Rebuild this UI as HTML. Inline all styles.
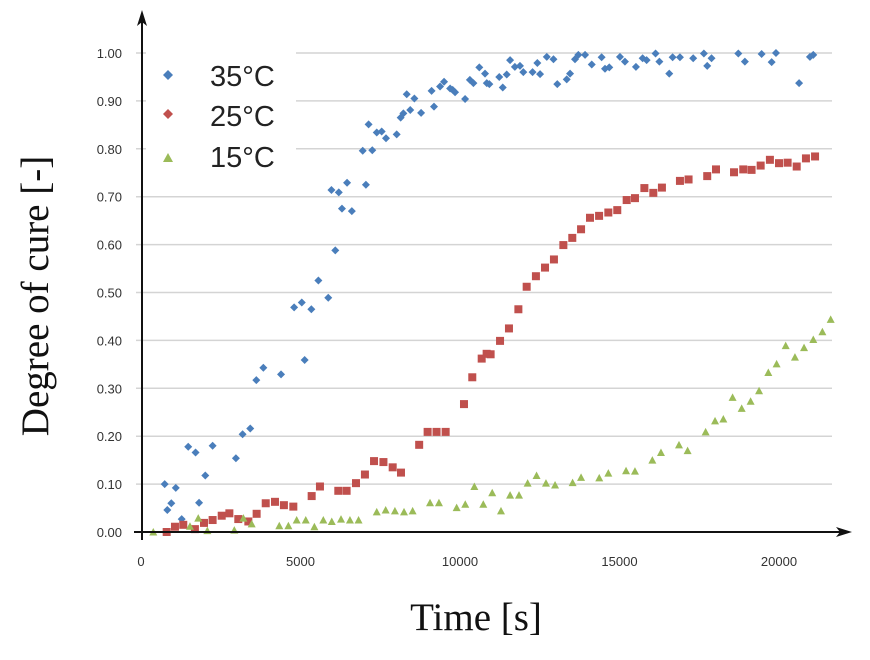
<!DOCTYPE html>
<html><head><meta charset="utf-8"><style>
body{margin:0;background:#fff;}
svg text{font-family:"Liberation Sans",sans-serif;}
</style></head><body>
<svg id="chart" width="870" height="655" viewBox="0 0 870 655" xmlns="http://www.w3.org/2000/svg">
<g id="grid"></g>
<g id="ticks"></g>
<g id="marks"></g>
<rect x="146" y="44" width="150" height="135" fill="#fff"/>
<g>
  <g>
    <path d="M168,70 l5,5 l-5,5 l-5,-5z" fill="#4a7ebb"/>
    <text x="210" y="86" font-size="29" fill="#222">35°C</text>
  </g>
  <g>
    <path d="M168,109 l5,5 l-5,5 l-5,-5z" fill="#c0504d"/>
    <text x="210" y="126" font-size="29" fill="#222">25°C</text>
  </g>
  <g>
    <path d="M163,162 l5,-9 l5,9z" fill="#9bbb59"/>
    <text x="210" y="167" font-size="29" fill="#222">15°C</text>
  </g>
</g>
<g>
  <line x1="142" y1="540" x2="142" y2="20" stroke="#111" stroke-width="2"/>
  <path d="M142,10 l-5,16 l5,-4 l5,4z" fill="#111"/>
  <line x1="134" y1="532" x2="842" y2="532" stroke="#111" stroke-width="2"/>
  <path d="M852,532 l-16,-5 l4,5 l-4,5z" fill="#111"/>
</g>
<text transform="translate(48,296) rotate(-90)" text-anchor="middle" font-size="39" style="font-family:'Liberation Serif',serif" fill="#111">Degree of cure [-]</text>
<text x="476" y="630" text-anchor="middle" font-size="39" style="font-family:'Liberation Serif',serif" fill="#111">Time [s]</text>
</svg>
<script>
const xTicks=[0,5000,10000,15000,20000];
const yTicks=[0,0.1,0.2,0.3,0.4,0.5,0.6,0.7,0.8,0.9,1.0];
const t35=[743,825,950,1090,1275,1480,1710,1820,2015,2245,2975,3185,3425,3615,3835,4390,5130,4800,5040,5340,5560,5870,6090,5970,6200,6300,6460,6610,7050,6950,7250,7135,7390,7545,7680,8015,8140,8225,8440,8330,8570,8780,9110,9185,9375,9500,9690,9845,10160,10310,10420,10605,10840,9770,10785,10920,11230,11340,11465,11570,11720,11880,11985,12275,12510,12425,12720,12930,13050,13345,13450,13605,13710,13920,14130,14440,14545,14680,15015,15170,15515,15725,15850,16130,16250,16560,16665,16895,17310,17645,17750,17885,18725,18930,19455,19770,19905,20630,20970,21075];
const v35=[0.10,0.046,0.06,0.092,0.027,0.178,0.166,0.061,0.118,0.18,0.154,0.204,0.216,0.317,0.343,0.329,0.359,0.469,0.479,0.465,0.525,0.489,0.588,0.714,0.709,0.675,0.729,0.67,0.725,0.796,0.797,0.851,0.834,0.836,0.822,0.83,0.865,0.874,0.881,0.914,0.905,0.875,0.921,0.888,0.93,0.94,0.926,0.918,0.904,0.944,0.937,0.97,0.937,0.923,0.957,0.935,0.95,0.928,0.955,0.985,0.971,0.973,0.96,0.96,0.956,0.979,0.992,0.987,0.935,0.945,0.957,0.987,0.996,0.996,0.976,0.991,0.967,0.97,0.992,0.982,0.971,0.989,0.985,0.999,0.982,0.957,0.991,0.991,0.989,0.999,0.973,0.989,0.999,0.982,0.998,0.981,1.0,0.937,0.992,0.996];
const t25=[805,1065,1325,1690,1975,2245,2530,2770,3050,3365,3625,3910,4200,4480,4775,5350,5610,6185,6445,6740,7020,7305,7600,7890,8150,8720,8985,9265,9550,10125,10385,10680,10835,10960,11255,11535,11830,12090,12380,12665,12945,13240,13520,13795,14075,14360,14650,14930,15225,15485,15780,16060,16330,16895,17165,17750,18025,18590,18880,19140,19425,19715,20000,20270,20555,20845,21130];
const v25=[0.0,0.011,0.015,0.006,0.019,0.025,0.034,0.039,0.027,0.022,0.038,0.06,0.063,0.056,0.053,0.075,0.095,0.086,0.086,0.102,0.12,0.148,0.146,0.135,0.124,0.182,0.209,0.209,0.209,0.267,0.323,0.362,0.372,0.371,0.399,0.425,0.465,0.512,0.534,0.552,0.569,0.599,0.614,0.632,0.656,0.66,0.667,0.672,0.693,0.697,0.718,0.708,0.719,0.733,0.736,0.743,0.757,0.751,0.757,0.756,0.765,0.777,0.77,0.771,0.763,0.78,0.784];
const t15=[385,1535,1795,2080,2925,3210,3470,4335,4620,4880,5165,5435,5715,5980,6270,6550,6820,7390,7670,7960,8245,8515,9060,9340,9895,10165,10450,10730,11010,11285,11570,11850,12120,12400,12695,12980,13530,13795,14365,14650,15205,15485,16030,16300,16865,17135,17700,17995,18255,18545,18830,19110,19375,19665,19925,20210,20500,20785,21075,21360,21620];
const v15=[0.0,0.012,0.029,0.003,0.004,0.029,0.017,0.013,0.013,0.025,0.025,0.011,0.025,0.022,0.027,0.025,0.025,0.042,0.046,0.044,0.042,0.044,0.061,0.061,0.051,0.058,0.095,0.058,0.082,0.044,0.077,0.077,0.102,0.118,0.102,0.098,0.103,0.114,0.113,0.123,0.128,0.127,0.15,0.166,0.182,0.17,0.209,0.232,0.236,0.281,0.258,0.273,0.295,0.333,0.351,0.389,0.365,0.385,0.402,0.418,0.444];

const NS='http://www.w3.org/2000/svg';
const xs=t=>141+t*0.0319;
const ys=v=>532-v*479;
function mk(tag,attrs,parent){const e=document.createElementNS(NS,tag);for(const k in attrs)e.setAttribute(k,attrs[k]);parent.appendChild(e);return e;}
const grid=document.getElementById('grid'),ticks=document.getElementById('ticks'),marks=document.getElementById('marks');
yTicks.forEach(v=>{
  if(v>0){const l=mk('line',{x1:136,x2:832,y1:ys(v),y2:ys(v),stroke:'#d4d4d4','stroke-width':1.5},grid);
  
  }
  const t=mk('text',{x:122,y:ys(v)+5,'text-anchor':'end','font-size':13,fill:'#333'},ticks);
  t.textContent=v.toFixed(2);
  
  
});
xTicks.forEach(x=>{
  const t=mk('text',{x:xs(x),y:566,'text-anchor':'middle','font-size':13,fill:'#333'},ticks);
  t.textContent=String(x);
  
  
});
t35.forEach((t,i)=>{const x=xs(t),y=ys(v35[i]);
  const p=mk('path',{d:`M${x},${y-4} L${x+4},${y} L${x},${y+4} L${x-4},${y}Z`,fill:'#4a7ebb'},marks);
  
  });
t25.forEach((t,i)=>{const x=xs(t),y=ys(v25[i]);
  const p=mk('rect',{x:x-4,y:y-4,width:8,height:8,fill:'#c0504d'},marks);
  
  });
t15.forEach((t,i)=>{const x=xs(t),y=ys(v15[i]);
  const p=mk('path',{d:`M${x-4},${y+3.5} L${x},${y-4} L${x+4},${y+3.5}Z`,fill:'#9bbb59'},marks);
  
  });
</script>
</body></html>
